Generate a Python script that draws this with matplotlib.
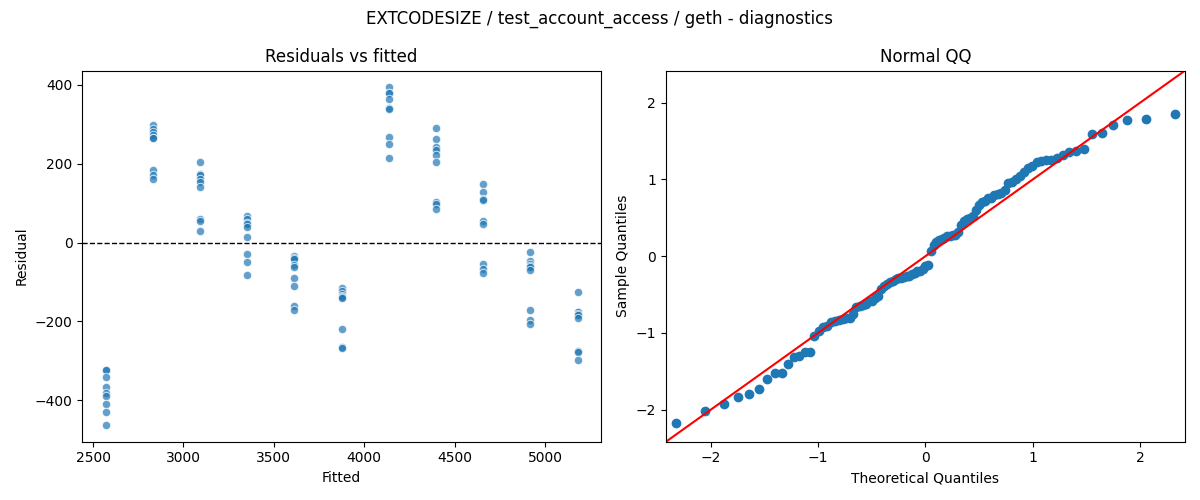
"""Residual diagnostics for EXTCODESIZE / test_account_access / geth"""
from statistics import NormalDist
import numpy as np
import matplotlib
matplotlib.use("Agg")
import matplotlib.pyplot as plt

TITLE = "EXTCODESIZE / test_account_access / geth - diagnostics"

# fitted value of each group and the residuals observed at it
fitted = [2570, 2831, 3092, 3353, 3614, 3875, 4136, 4397, 4658, 4919, 5180]
residuals = [
    [-322, -324, -341, -366, -381, -389, -408, -429, -462],
    [298, 287, 281, 272, 266, 264, 183, 172, 162],
    [205, 174, 170, 162, 153, 142, 59, 55, 30],
    [68, 59, 50, 46, 40, 14, -28, -50, -83],
    [-34, -40, -42, -57, -63, -91, -111, -161, -171],
    [-116, -124, -131, -135, -138, -140, -220, -264, -266],
    [393, 380, 378, 363, 340, 338, 267, 250, 214],
    [290, 262, 243, 234, 223, 203, 103, 97, 86],
    [149, 128, 111, 107, 55, 48, -55, -68, -78],
    [-23, -46, -55, -59, -61, -70, -171, -196, -206],
    [-125, -175, -177, -180, -183, -192, -276, -278, -298],
]


def main():
    x = np.concatenate([[f] * len(r) for f, r in zip(fitted, residuals)])
    y = np.concatenate([np.array(r, dtype=float) for r in residuals])

    fig, (ax1, ax2) = plt.subplots(1, 2, figsize=(12, 5))

    ax1.scatter(x, y, s=36, color="#1f77b4", alpha=0.7, edgecolor="white", linewidth=0.75)
    ax1.axhline(0, color="black", ls="--", lw=1)
    ax1.set_title("Residuals vs fitted")
    ax1.set_xlabel("Fitted")
    ax1.set_ylabel("Residual")

    # normal QQ (standardised residuals, plotting positions i/(n+1))
    n = len(y)
    sample = np.sort((y - y.mean()) / y.std())
    nd = NormalDist()
    theo = np.array([nd.inv_cdf(i / (n + 1)) for i in range(1, n + 1)])
    ax2.plot(theo, sample, "o", color="#1f77b4")
    ax2.axline((0, 0), slope=1, color="red")
    ax2.set_xlim(-2.42, 2.42); ax2.set_ylim(-2.42, 2.42)
    ax2.set_title("Normal QQ")
    ax2.set_xlabel("Theoretical Quantiles")
    ax2.set_ylabel("Sample Quantiles")

    fig.suptitle(TITLE)
    plt.tight_layout()
    plt.savefig("out.png", dpi=100)


if __name__ == "__main__":
    main()
